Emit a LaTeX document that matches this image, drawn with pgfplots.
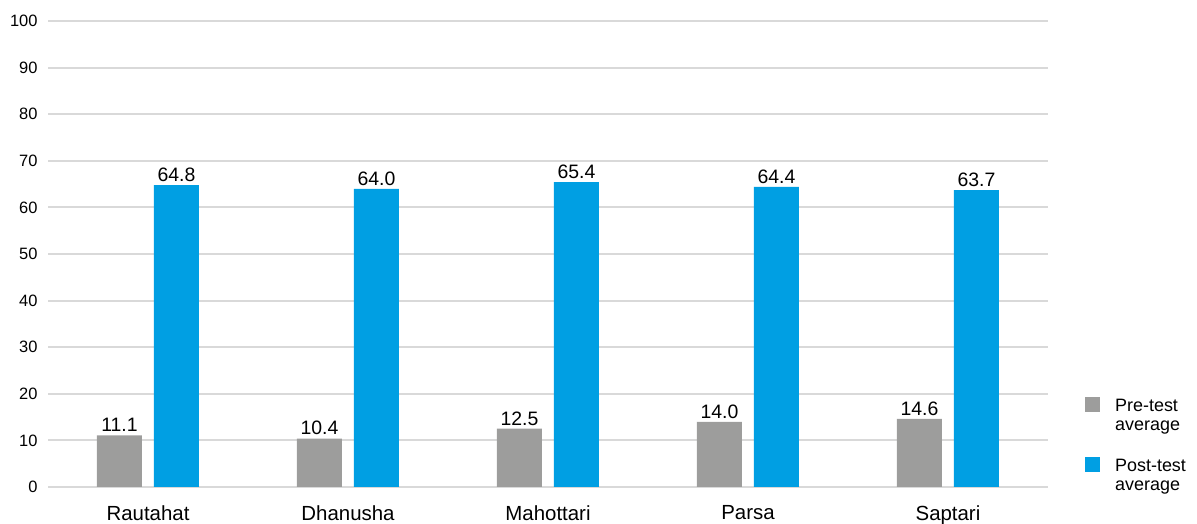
\documentclass[border=0pt]{standalone}
\usepackage{fontspec}
\setmainfont{Liberation Sans}
\usepackage{pgfplots}
\pgfplotsset{compat=1.18}
\definecolor{pregray}{HTML}{9D9D9C}
\definecolor{postblue}{HTML}{009FE3}
\definecolor{gridgray}{HTML}{D9D9D9}
\begin{document}
\begin{tikzpicture}
\useasboundingbox (0,0) rectangle (1197bp,524bp);
\begin{axis}[
  at={(48bp,37bp)}, anchor=south west,
  scale only axis, width=1000bp, height=466bp,
  xmin=-0.5, xmax=4.5, ymin=0, ymax=100,
  ytick={0,10,...,100},
  xtick={0,1,2,3,4},
  xticklabels={Rautahat,Dhanusha,Mahottari,Parsa,Saptari},
  axis line style={draw=none},
  major tick length=0pt,
  ymajorgrids, grid style={gridgray, line width=2bp},
  ybar=12bp, bar width=45bp,
  /pgf/number format/assume math mode=true,
  yticklabel style={font=\fontsize{16.5}{16.5}\selectfont, xshift=-7bp},
  xticklabel style={font=\fontsize{20.5}{20.5}\selectfont, yshift=-15bp},
  nodes near coords,
  nodes near coords style={font=\fontsize{19.5}{19.5}\selectfont, black,
    /pgf/number format/.cd, fixed, fixed zerofill, precision=1, assume math mode=true},
  legend cell align=left,
  legend style={at={(1.037,0.193)}, anchor=north west, draw=none, fill=none,
    inner sep=0pt, font=\fontsize{18}{18.5}\selectfont, row sep=23bp, column sep=13bp,
    nodes={align=left}},
  legend image code/.code={\fill[#1] (0bp,3.5bp) rectangle (15bp,18.5bp);},
]
\addplot[fill=pregray, draw=none] coordinates {(0,11.1) (1,10.4) (2,12.5) (3,14.0) (4,14.6)};
\addplot[fill=postblue, draw=none] coordinates {(0,64.8) (1,64.0) (2,65.4) (3,64.4) (4,63.7)};
\legend{Pre-test\\average, Post-test\\average}
\end{axis}
\end{tikzpicture}
\end{document}
